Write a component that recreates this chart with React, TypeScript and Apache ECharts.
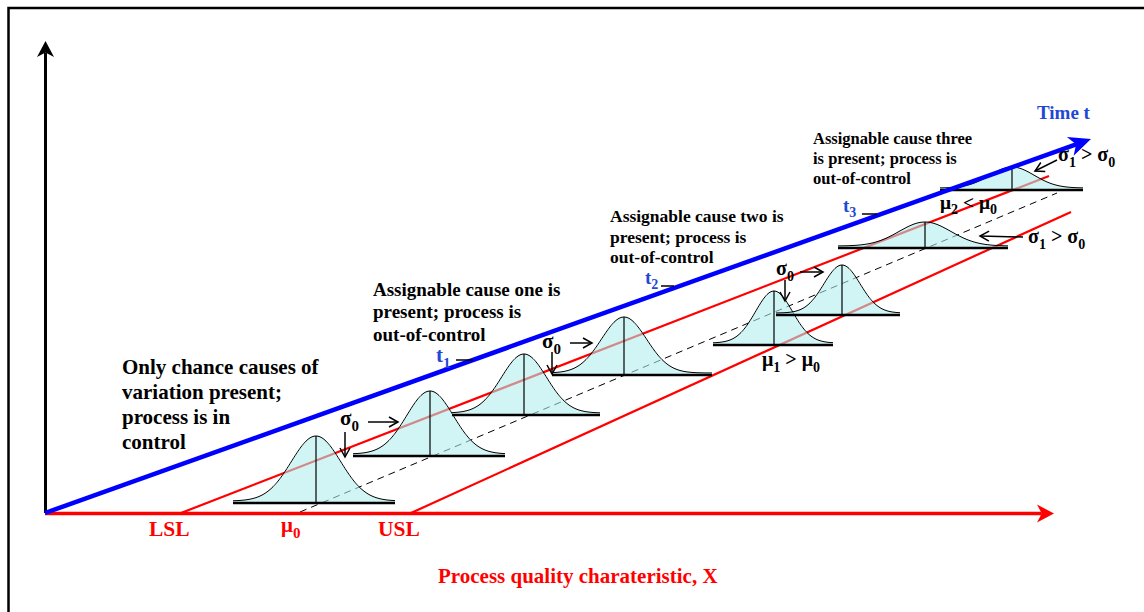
import { useEffect, useRef } from "react";
import * as echarts from "echarts";

// ---------------- Diagram data (diagram units on a 1144 x 612 sheet, Y downward) ----------------
// Axes drawn with arrow heads: [x1, y1, x2, y2]  (vertical axis, X axis, time axis)
const axisArrows = [
  [45.5, 513, 45.5, 41],
  [45, 513.5, 1054, 513.5],
  [45, 513, 1091, 139],
];
// Specification limit lines (LSL, USL) and the target/centre line
const specLimitLines = [
  [181, 513, 1049, 176],
  [411, 513, 1071, 212],
];
const centerLine = [[300, 512, 1057, 193]];

// Normal distributions along time: mean, baseline, left end, right end, peak
const curveMeans = [316, 430, 524, 624, 774, 842, 925, 1012];
const curveBases = [503, 456, 415, 375, 345, 315, 248, 190];
const curveLefts = [233, 353, 452, 552, 713, 776, 838, 940];
const curveRights = [395, 505, 600, 712, 833, 900, 1008, 1083];
const curvePeaks = [436, 391, 354, 317, 291, 265, 222, 167];

// Small pointer arrows (σ annotations): [x1, y1, x2, y2]
const pointerArrows = [
  [368, 422, 398, 422],
  [345, 432, 345, 457],
  [570, 343, 592, 343],
  [552, 352, 552, 374],
  [800, 272, 823, 272],
  [785, 280, 785, 301],
  [1023, 237, 980, 236],
  [1057, 160, 1035, 171],
];
// Time marks next to t1, t2, t3
const timeTicks = [
  [456, 360, 473, 360],
  [661, 286, 674, 286],
  [862, 214, 877, 214],
];

// Texts ({b|..} = normal, {s|..} = subscript)
const stageTexts = [
  "Only chance causes of\nvariation present;\nprocess is in\ncontrol",
  "Assignable cause one is\npresent; process is\nout-of-control",
  "Assignable cause two is\npresent; process is\nout-of-control",
  "Assignable cause three\nis present; process is\nout-of-control",
];
const timeLabels = ["{b|t}{s|1}", "{b|t}{s|2}", "{b|t}{s|3}"];
const sigmaLabels = ["{b|σ}{s|0}", "{b|σ}{s|0}", "{b|σ}{s|0}", "{b|σ}{s|1}{b| > σ}{s|0}", "{b|σ}{s|1}{b| > σ}{s|0}"];
const meanLabels = ["{b|μ}{s|1}{b| > μ}{s|0}", "{b|μ}{s|2}{b| < μ}{s|0}"];
const axisLabels = ["LSL", "{b|μ}{s|0}", "USL"];
const xAxisTitle = "Process quality charateristic, X";
const timeAxisTitle = "Time t";

// ---------------- rendering ----------------
const W = 1144;
const H = 612;
const SERIF = '"Liberation Serif", "Times New Roman", serif';
const BLUE_TEXT = "#1f48d6";

let measureCtx: CanvasRenderingContext2D | null = null;
function textWidth(t: string, size: number) {
  if (!measureCtx) measureCtx = document.createElement("canvas").getContext("2d");
  if (!measureCtx) return t.length * size * 0.5;
  measureCtx.font = `bold ${size}px "Liberation Serif", "Times New Roman", serif`;
  return measureCtx.measureText(t).width;
}

function unit(ax: number, ay: number, bx: number, by: number) {
  const dx = bx - ax;
  const dy = by - ay;
  const l = Math.sqrt(dx * dx + dy * dy) || 1;
  return [dx / l, dy / l];
}

function plain(text: string, x: number, y: number, size: number, color: string, lineHeight?: number, vAlign = "middle") {
  return {
    type: "text",
    x,
    y,
    silent: true,
    z: 20,
    style: {
      text,
      fill: color,
      fontFamily: SERIF,
      fontWeight: "bold",
      fontSize: size,
      lineHeight: lineHeight || size + 2,
      align: "left",
      verticalAlign: vAlign,
    },
  };
}

// text with subscripts, pieces laid out left to right using measured widths
function formula(src: string, x: number, y: number, size: number, color: string) {
  const parts: { sub: boolean; t: string }[] = [];
  const re = /\{(b|s)\|([^}]*)\}/g;
  let m: RegExpExecArray | null;
  while ((m = re.exec(src))) parts.push({ sub: m[1] === "s", t: m[2] });
  const subSize = Math.round(size * 0.72);
  const children: any[] = [];
  let cx = x;
  for (const p of parts) {
    const fs = p.sub ? subSize : size;
    const spaceW = textWidth(" ", fs) || fs * 0.25;
    const lead = p.t.length - p.t.replace(/^\s+/, "").length;
    const trail = p.t.length - p.t.replace(/\s+$/, "").length;
    const core = p.t.trim();
    cx += lead * spaceW;
    if (core) {
      children.push({
        type: "text",
        x: cx,
        y: p.sub ? y + size * 0.4 : y,
        silent: true,
        z: 20,
        style: {
          text: core,
          fill: color,
          fontFamily: SERIF,
          fontWeight: "bold",
          fontSize: fs,
          lineHeight: fs,
          align: "left",
          verticalAlign: "middle",
        },
      });
      cx += textWidth(core, fs);
    }
    cx += trail * spaceW;
  }
  return { type: "group", silent: true, z: 20, children };
}

const axisColors = ["#000000", "#ff0000", "#0000ff"];
const axisWidths = [3, 3.5, 4.5];
const axisHeads = [
  [16, 8.5],
  [17, 9],
  [22, 10],
];

function buildOption() {
  const curveData = curveMeans.map((m, i) => [m, curveBases[i], curveLefts[i], curveRights[i], curvePeaks[i]]);

  const graphic: any[] = [
    {
      type: "polyline",
      silent: true,
      z: 1,
      shape: { points: [[8.5, H], [8.5, 8], [W, 8]] },
      style: { stroke: "#000", lineWidth: 2.5, fill: null },
    },
    plain(stageTexts[0], 122, 354.5, 21, "#000", 25, "top"),
    plain(stageTexts[1], 373, 278, 19, "#000", 22.5, "top"),
    plain(stageTexts[2], 610, 205.5, 17.5, "#000", 20.7, "top"),
    plain(stageTexts[3], 813, 129, 16.5, "#000", 19.7, "top"),
    plain(timeAxisTitle, 1037, 112, 19, BLUE_TEXT),
    plain(axisLabels[0], 149, 529, 21.5, "#ff0000"),
    formula(axisLabels[1], 281, 525, 21, "#ff0000"),
    plain(axisLabels[2], 378, 529, 21.5, "#ff0000"),
    plain(xAxisTitle, 438, 576, 21, "#ff0000"),
    formula(timeLabels[0], 436, 355, 21, BLUE_TEXT),
    formula(timeLabels[1], 645, 277, 19, BLUE_TEXT),
    formula(timeLabels[2], 843, 205, 19, BLUE_TEXT),
    formula(sigmaLabels[0], 340, 418, 21, "#000"),
    formula(sigmaLabels[1], 542, 341, 21, "#000"),
    formula(sigmaLabels[2], 776, 268, 20, "#000"),
    formula(sigmaLabels[3], 1028, 236, 20, "#000"),
    formula(sigmaLabels[4], 1058, 154, 20, "#000"),
    formula(meanLabels[0], 762, 359, 20, "#000"),
    formula(meanLabels[1], 940, 202, 19.5, "#000"),
  ];

  return {
    animation: false,
    backgroundColor: "#ffffff",
    grid: { left: 0, top: 0, right: 0, bottom: 0, containLabel: false },
    xAxis: { type: "value", min: 0, max: W, show: false },
    yAxis: { type: "value", min: 0, max: H, inverse: true, show: false },
    graphic,
    series: [
      // spec limit lines
      {
        type: "custom",
        clip: false,
        z: 2,
        silent: true,
        data: specLimitLines,
        renderItem: (_p: any, api: any) => {
          const a = api.coord([api.value(0), api.value(1)]);
          const b = api.coord([api.value(2), api.value(3)]);
          return {
            type: "line",
            shape: { x1: a[0], y1: a[1], x2: b[0], y2: b[1] },
            style: { stroke: "#ff0000", lineWidth: 2.2 },
          };
        },
      },
      // centre line (dashed)
      {
        type: "custom",
        clip: false,
        z: 2,
        silent: true,
        data: centerLine,
        renderItem: (_p: any, api: any) => {
          const a = api.coord([api.value(0), api.value(1)]);
          const b = api.coord([api.value(2), api.value(3)]);
          return {
            type: "line",
            shape: { x1: a[0], y1: a[1], x2: b[0], y2: b[1] },
            style: { stroke: "#000000", lineWidth: 1, lineDash: [7, 5] },
          };
        },
      },
      // normal curves
      {
        type: "custom",
        clip: false,
        z: 5,
        silent: true,
        data: curveData,
        renderItem: (_p: any, api: any) => {
          const mean = api.value(0);
          const base = api.value(1);
          const left = api.value(2);
          const right = api.value(3);
          const peak = api.value(4);
          const sigma = Math.min(mean - left, right - mean) / 3.2;
          const lift = 2;
          const pts: number[][] = [];
          for (let x = left; x <= right + 0.001; x += 1) {
            const g = Math.exp(-0.5 * ((x - mean) / sigma) ** 2);
            const y = base - lift - (base - lift - peak) * g;
            pts.push(api.coord([x, y]));
          }
          const bl = api.coord([left, base]);
          const br = api.coord([right, base]);
          const top = api.coord([mean, peak]);
          const mb = api.coord([mean, base]);
          return {
            type: "group",
            children: [
              {
                type: "polygon",
                shape: { points: [...pts, br, bl] },
                style: { fill: "rgba(175, 236, 238, 0.58)", stroke: null },
              },
              {
                type: "polyline",
                shape: { points: pts },
                style: { stroke: "#000", lineWidth: 1, fill: null },
              },
              {
                type: "line",
                shape: { x1: top[0], y1: top[1], x2: mb[0], y2: mb[1] },
                style: { stroke: "#000", lineWidth: 1.2 },
              },
              {
                type: "line",
                shape: { x1: bl[0], y1: bl[1], x2: br[0], y2: br[1] },
                style: { stroke: "#000", lineWidth: 2.6 },
              },
            ],
          };
        },
      },
      // axes with arrows (drawn above the curves)
      {
        type: "custom",
        clip: false,
        z: 6,
        silent: true,
        data: axisArrows,
        renderItem: (p: any, api: any) => {
          const i = p.dataIndex;
          const a = api.coord([api.value(0), api.value(1)]);
          const b = api.coord([api.value(2), api.value(3)]);
          const [ux, uy] = unit(a[0], a[1], b[0], b[1]);
          const nx = -uy;
          const ny = ux;
          const [len, hw] = axisHeads[i];
          const color = axisColors[i];
          const back = [b[0] - ux * len, b[1] - uy * len];
          const notch = [b[0] - ux * len * 0.72, b[1] - uy * len * 0.72];
          return {
            type: "group",
            children: [
              {
                type: "line",
                shape: { x1: a[0], y1: a[1], x2: notch[0], y2: notch[1] },
                style: { stroke: color, lineWidth: axisWidths[i] },
              },
              {
                type: "polygon",
                shape: {
                  points: [
                    [b[0], b[1]],
                    [back[0] + nx * hw, back[1] + ny * hw],
                    notch,
                    [back[0] - nx * hw, back[1] - ny * hw],
                  ],
                },
                style: { fill: color },
              },
            ],
          };
        },
      },
      // pointer arrows
      {
        type: "custom",
        clip: false,
        z: 8,
        silent: true,
        data: pointerArrows,
        renderItem: (_p: any, api: any) => {
          const a = api.coord([api.value(0), api.value(1)]);
          const b = api.coord([api.value(2), api.value(3)]);
          const [ux, uy] = unit(a[0], a[1], b[0], b[1]);
          const nx = -uy;
          const ny = ux;
          const len = 9;
          const hw = 5;
          return {
            type: "group",
            children: [
              {
                type: "line",
                shape: { x1: a[0], y1: a[1], x2: b[0], y2: b[1] },
                style: { stroke: "#000", lineWidth: 1.5 },
              },
              {
                type: "polyline",
                shape: {
                  points: [
                    [b[0] - ux * len + nx * hw, b[1] - uy * len + ny * hw],
                    [b[0], b[1]],
                    [b[0] - ux * len - nx * hw, b[1] - uy * len - ny * hw],
                  ],
                },
                style: { stroke: "#000", lineWidth: 1.5, fill: null },
              },
            ],
          };
        },
      },
      // time ticks
      {
        type: "custom",
        clip: false,
        z: 8,
        silent: true,
        data: timeTicks,
        renderItem: (_p: any, api: any) => {
          const a = api.coord([api.value(0), api.value(1)]);
          const b = api.coord([api.value(2), api.value(3)]);
          return {
            type: "line",
            shape: { x1: a[0], y1: a[1], x2: b[0], y2: b[1] },
            style: { stroke: "#000", lineWidth: 1.5 },
          };
        },
      },
    ],
  };
}

export default function App() {
  const ref = useRef<HTMLDivElement>(null);
  useEffect(() => {
    if (!ref.current) return;
    const chart = echarts.init(ref.current, null, { renderer: "svg" });
    chart.setOption(buildOption() as any);
    return () => chart.dispose();
  }, []);
  return (
    <div
      ref={ref}
      style={{ position: "fixed", left: 0, top: 0, width: W, height: H, background: "#ffffff" }}
    />
  );
}
